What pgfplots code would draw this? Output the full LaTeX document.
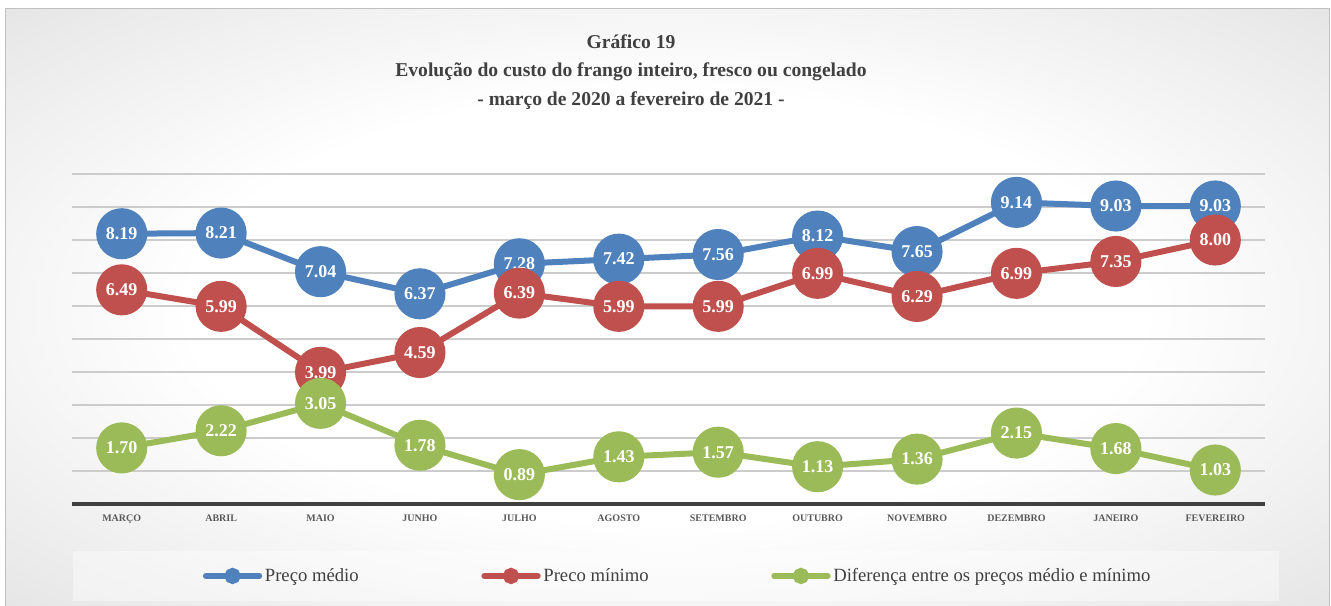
\documentclass[border=0pt]{standalone}
\usepackage{pgfplots}
\pgfplotsset{compat=1.18}
\usepackage{fontspec}
\setmainfont{Liberation Serif}
\definecolor{cblue}{HTML}{4F81BD}
\definecolor{cred}{HTML}{C0504D}
\definecolor{cgreen}{HTML}{9BBB59}
\definecolor{txt}{HTML}{404040}
\definecolor{tickc}{HTML}{595959}
\pgfdeclareradialshading{bgshade}{\pgfpoint{0bp}{0bp}}{color(0bp)=(white); color(18bp)=(white); color(55bp)=(black!21); color(75bp)=(black!27)}
\begin{document}
\begin{tikzpicture}
\begin{scope}[x=0.75pt,y=-0.75pt]
\useasboundingbox (0,0) rectangle (1331,606);
\fill[white] (0,0) rectangle (1331,606);
\shade[shading=bgshade] (5,9) rectangle (1329,606);
\draw[black!25, line width=0.75pt] (5,606) -- (5,9) -- (1329,9) -- (1329,606);
\fill[white, opacity=0.4] (73,551) rectangle (1279,601);
\node[font=\bfseries\fontsize{14.7}{21.4}\selectfont, text=txt, align=center] at (631,72) {Gráfico 19\\Evolução do custo do frango inteiro, fresco ou congelado\\- março de 2020 a fevereiro de 2021 -};
\end{scope}
\begin{axis}[
  at={(54pt,-378pt)}, anchor=south west,
  scale only axis, width=894.75pt, height=247.5pt,
  xmin=-0.5, xmax=11.5, ymin=0, ymax=10,
  axis line style={draw=none},
  xtick={0,...,11},
  xticklabels={MARÇO,ABRIL,MAIO,JUNHO,JULHO,AGOSTO,SETEMBRO,OUTUBRO,NOVEMBRO,DEZEMBRO,JANEIRO,FEVEREIRO},
  ytick={1,...,10}, yticklabels={},
  ymajorgrids, grid style={draw=black!20, line width=1.5pt},
  extra y ticks={0}, extra y tick labels={},
  extra y tick style={ymajorgrids, grid style={draw=txt, line width=3pt}},
  major tick length=0pt,
  xticklabel style={anchor=base, yshift=-13.3pt, font=\bfseries\fontsize{7.5}{9}\selectfont, text=tickc},
  clip=false,
  /pgf/number format/fixed, /pgf/number format/fixed zerofill,
  /pgf/number format/precision=2, /pgf/number format/assume math mode=true,
  nodes near coords, point meta=y,
  nodes near coords style={anchor=center, font=\bfseries\fontsize{13.5}{16}\selectfont, text=white},
  every axis plot/.append style={line width=4.5pt, mark=*, mark size=16.9pt},
  legend columns=3,
  legend style={at={(0.508,-0.218)}, anchor=center, draw=none, fill=none,
    font=\fontsize{14}{16}\selectfont, text=txt,
    /tikz/every even column/.append style={column sep=90pt}},
  legend image code/.code={\draw[line width=4.5pt, line cap=round, mark=none] (0pt,0pt) -- (40pt,0pt); \fill (20pt,0pt) circle (3.8pt);},
]
\addplot[color=cblue] coordinates {(0,8.19) (1,8.21) (2,7.04) (3,6.37) (4,7.28) (5,7.42) (6,7.56) (7,8.12) (8,7.65) (9,9.14) (10,9.03) (11,9.03)};
\addlegendentry{Preço médio}
\addplot[color=cred] coordinates {(0,6.49) (1,5.99) (2,3.99) (3,4.59) (4,6.39) (5,5.99) (6,5.99) (7,6.99) (8,6.29) (9,6.99) (10,7.35) (11,8.00)};
\addlegendentry{Preco mínimo}
\addplot[color=cgreen] coordinates {(0,1.70) (1,2.22) (2,3.05) (3,1.78) (4,0.89) (5,1.43) (6,1.57) (7,1.13) (8,1.36) (9,2.15) (10,1.68) (11,1.03)};
\addlegendentry{Diferença entre os preços médio e mínimo}
\end{axis}
\end{tikzpicture}
\end{document}
